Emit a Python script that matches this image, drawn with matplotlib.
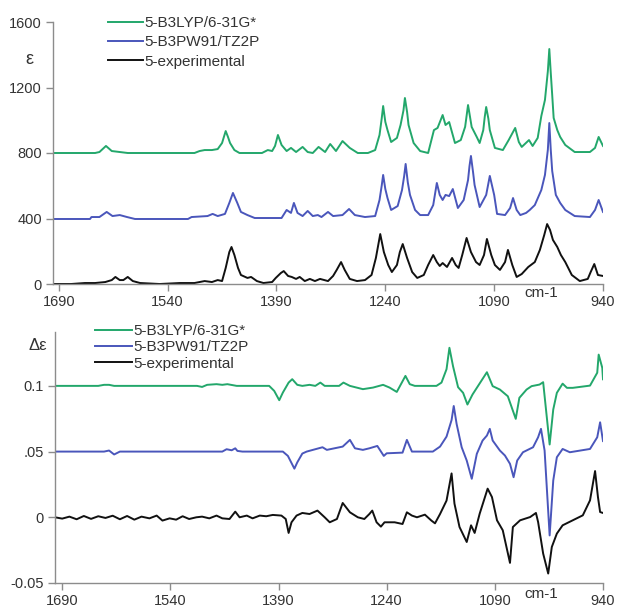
import matplotlib
matplotlib.use("Agg")
import matplotlib.pyplot as plt
import numpy as np

plt.rcParams['font.family'] = ['Liberation Sans', 'DejaVu Sans']

# --- absorption (epsilon), wavenumber in cm-1 ---
wn_abs_b3lyp = [1698, 1640, 1634, 1625, 1617, 1606, 1595, 1503, 1496, 1489, 1479, 1471, 1465, 1462, 1460,
                1457, 1454, 1448, 1441, 1410, 1402, 1396, 1392, 1388, 1383, 1376, 1370, 1363, 1354, 1347,
                1340, 1332, 1323, 1316, 1308, 1299, 1289, 1278, 1264, 1254, 1248, 1245, 1243, 1240, 1237, 1232,
                1224, 1219, 1215, 1213, 1210, 1208, 1201, 1192, 1181, 1173, 1168, 1161, 1157, 1152, 1144, 1136,
                1130, 1126, 1124, 1121, 1114, 1110, 1105, 1103, 1101, 1098, 1096, 1089, 1078, 1070, 1061, 1056, 1052, 1042,
                1037, 1030, 1025, 1020, 1016, 1014, 1012, 1010, 1008, 1003, 999, 992, 979, 958, 951, 946, 940]
eps_b3lyp = [800, 800, 806, 843, 812, 806, 800, 800, 812, 818, 818, 824, 861, 905, 934,
             900, 861, 818, 800, 800, 818, 812, 843, 910, 849, 812, 831, 806, 837, 806,
             800, 837, 806, 855, 812, 873, 831, 800, 800, 818, 910, 1010, 1087, 990, 940, 867,
             892, 971, 1060, 1136, 1050, 971, 861, 812, 800, 940, 953, 1032, 971, 989, 861, 879,
             960, 1093, 1040, 959, 898, 861, 940, 1020, 1081, 1010, 940, 831, 818, 879, 953, 867, 837, 879,
             843, 892, 1026, 1124, 1300, 1435, 1290, 1154, 1014, 940, 898, 849, 806, 806, 831, 898, 843]

wn_abs_b3pw91 = [1698, 1647, 1645, 1634, 1624, 1616, 1606, 1596, 1585, 1512, 1507, 1485, 1478, 1471,
                 1461, 1455, 1450, 1444, 1439, 1430, 1420, 1383, 1376, 1370, 1366, 1361, 1354, 1347,
                 1340, 1333, 1328, 1319, 1312, 1299, 1290, 1282, 1268, 1254, 1248, 1245, 1243, 1240, 1237, 1232,
                 1223, 1217, 1214, 1212, 1209, 1206, 1199, 1192, 1181, 1174, 1169, 1165, 1161, 1157, 1152, 1147,
                 1140, 1132, 1126, 1124, 1122, 1119, 1117, 1110, 1101, 1096, 1090, 1086, 1075, 1068, 1064, 1059,
                 1054, 1046, 1041, 1034, 1025, 1020, 1016, 1014, 1012, 1010, 1005, 999, 992, 979, 958, 951, 946, 940]
eps_b3pw91 = [397, 397, 409, 409, 440, 415, 421, 409, 397, 397, 409, 415, 428, 415,
              428, 495, 556, 495, 440, 421, 403, 403, 452, 434, 495, 434, 415, 446,
              415, 421, 409, 440, 415, 421, 458, 421, 409, 415, 513, 600, 666, 580, 525, 452,
              476, 574, 660, 733, 620, 544, 452, 421, 421, 482, 617, 544, 513, 544, 537, 580,
              464, 513, 635, 720, 782, 680, 605, 470, 544, 660, 544, 428, 421, 464, 525, 452,
              421, 434, 452, 482, 574, 666, 820, 983, 820, 690, 544, 495, 452, 415, 409, 452, 513, 440]

wn_abs_exp = [1698, 1673, 1654, 1640, 1626, 1617, 1612, 1606, 1601, 1595, 1588, 1578, 1551, 1523,
              1503, 1489, 1479, 1471, 1465, 1460, 1455, 1452, 1448, 1443, 1439, 1430, 1425, 1417,
              1408, 1396, 1391, 1384, 1380, 1374, 1369, 1363, 1358, 1351, 1344, 1337, 1330, 1319,
              1312, 1307, 1301, 1296, 1289, 1279, 1268, 1259, 1253, 1247, 1242, 1236, 1231, 1224,
              1220, 1216, 1210, 1203, 1196, 1187, 1181, 1174, 1169, 1165, 1161, 1155, 1148, 1143,
              1139, 1134, 1128, 1122, 1115, 1110, 1104, 1100, 1094, 1089, 1082, 1075, 1071, 1065,
              1059, 1052, 1043, 1034, 1027, 1021, 1017, 1013, 1009, 1003, 998, 992, 983, 972,
              961, 957, 952, 947, 940]
eps_exp = [0, 0, 6, 6, 12, 24, 43, 24, 24, 43, 18, 6, 0, 6,
           6, 18, 12, 24, 18, 98, 195, 226, 177, 98, 55, 37, 43, 18,
           6, 12, 37, 67, 79, 49, 43, 31, 43, 18, 31, 18, 31, 18,
           49, 86, 134, 86, 31, 18, 24, 55, 159, 305, 195, 116, 73, 116,
           195, 244, 159, 73, 37, 55, 116, 177, 134, 110, 128, 104, 159, 116,
           98, 177, 281, 195, 134, 116, 177, 275, 177, 116, 86, 134, 208, 116,
           43, 61, 104, 134, 208, 299, 366, 330, 269, 226, 177, 134, 55, 18,
           31, 73, 122, 55, 49]

# --- circular dichroism (delta epsilon) ---
wn_cd_b3lyp = [1700, 1640, 1632, 1625, 1618, 1503, 1496, 1489, 1476, 1468, 1461, 1448, 1403, 1396,
               1389, 1384, 1376, 1371, 1364, 1357, 1347, 1339, 1332, 1326, 1306, 1300, 1291, 1273,
               1259, 1245, 1236, 1226, 1219, 1214, 1208, 1201, 1171, 1164, 1157, 1153, 1148, 1141,
               1134, 1128, 1121, 1101, 1093, 1083, 1072, 1061, 1056, 1046, 1039, 1028, 1023, 1014,
               1009, 1004, 996, 990, 982, 958, 948, 946, 941, 940]
de_b3lyp = [0.1, 0.1, 0.1008, 0.1008, 0.1, 0.1, 0.0992, 0.1008, 0.1013, 0.1008, 0.1013, 0.1, 0.1, 0.0962,
            0.0891, 0.0949, 0.1025, 0.1051, 0.1008, 0.1, 0.1008, 0.1, 0.1025, 0.1, 0.1, 0.1025, 0.1, 0.0975,
            0.0987, 0.1008, 0.0987, 0.0954, 0.1025, 0.1076, 0.1013, 0.1, 0.1, 0.1025, 0.1127, 0.129, 0.115, 0.099,
            0.0947, 0.0858, 0.0934, 0.1104, 0.0998, 0.0972, 0.0921, 0.0749, 0.0909, 0.0972, 0.0998, 0.101, 0.1028, 0.0554,
            0.082, 0.0947, 0.1017, 0.0985, 0.0985, 0.1002, 0.110, 0.1238, 0.1137, 0.105]

wn_cd_b3pw91 = [1700, 1632, 1625, 1618, 1610, 1468, 1462, 1455, 1450, 1447, 1440, 1384, 1377, 1368,
                1364, 1357, 1351, 1329, 1323, 1301, 1291, 1284, 1273, 1264, 1253, 1244, 1240, 1218,
                1212, 1205, 1176, 1166, 1157, 1150, 1147, 1143, 1136, 1129, 1122, 1115, 1107, 1101,
                1097, 1093, 1083, 1076, 1069, 1064, 1059, 1051, 1037, 1030, 1026, 1021, 1014, 1009,
                1004, 996, 986, 958, 948, 944, 940]
de_b3pw91 = [0.05, 0.05, 0.0508, 0.0478, 0.05, 0.05, 0.0518, 0.051, 0.0525, 0.0505, 0.05, 0.05, 0.0467, 0.037,
             0.0418, 0.0485, 0.05, 0.0533, 0.0513, 0.0538, 0.0589, 0.0525, 0.0513, 0.0525, 0.0543, 0.0467, 0.0487, 0.0492,
             0.0589, 0.05, 0.05, 0.0538, 0.0614, 0.074, 0.0847, 0.071, 0.0533, 0.0432, 0.0293, 0.0483, 0.0584, 0.0622,
             0.0673, 0.0584, 0.0508, 0.047, 0.0407, 0.0305, 0.0432, 0.0495, 0.0533, 0.0609, 0.0673, 0.0508, -0.0138, 0.028,
             0.0457, 0.052, 0.0495, 0.052, 0.0609, 0.0723, 0.058]

wn_cd_exp = [1700, 1690, 1680, 1670, 1660, 1650, 1640, 1630, 1620, 1610, 1600, 1590, 1580, 1569,
             1559, 1551, 1541, 1532, 1523, 1514, 1504, 1496, 1486, 1476, 1468, 1458, 1450, 1444,
             1434, 1426, 1416, 1407, 1398, 1386, 1380, 1376, 1372, 1365, 1357, 1347, 1336, 1326,
             1319, 1309, 1301, 1291, 1280, 1271, 1264, 1260, 1254, 1248, 1243, 1229, 1218, 1212,
             1205, 1198, 1187, 1178, 1173, 1166, 1157, 1150, 1146, 1139, 1129, 1123, 1118, 1111,
             1100, 1094, 1087, 1079, 1069, 1065, 1055, 1041, 1033, 1030, 1023, 1016, 1011, 1004,
             996, 982, 968, 958, 951, 947, 944, 940]
de_exp = [0, -0.001, 0.0005, -0.0015, 0.001, -0.0012, 0.0008, -0.0005, 0.0012, -0.0015, 0.001, -0.0018, 0.0005, -0.0008,
          0.0013, -0.0025, -0.0008, -0.0018, 0.0008, -0.0013, 0, 0.0005, -0.0008, 0.0013, -0.0008, -0.0013, 0.0043, 0,
          0.0013, -0.0008, 0.0013, 0.0008, 0.0018, 0.0013, -0.0013, -0.0119, -0.0038, 0.0013, 0.0033, 0.0025, 0.0051, 0,
          -0.0038, -0.0013, 0.0109, 0.0038, 0, -0.0013, 0.0025, 0.0051, -0.0038, -0.0071, -0.0038, -0.0038, -0.0051, 0.0038,
          0.0013, 0, 0.002, -0.0025, -0.0046, 0.0025, 0.0127, 0.0334, 0.0104, -0.0074, -0.0188, -0.0061, -0.0119, 0.0028,
          0.0218, 0.0154, -0.0023, -0.0099, -0.0347, -0.0074, -0.0023, 0.0002, 0.0033, -0.0036, -0.0276, -0.0428, -0.0226, -0.0124,
          -0.0061, -0.0023, 0.0015, 0.0129, 0.0352, 0.0154, 0.004, 0.0033]

labels = ["5-B3LYP/6-31G*", "5-B3PW91/TZ2P", "5-experimental"]
c_green = "#23a76b"
c_blue = "#4a56bb"
c_black = "#111111"
axis_col = "#8c8c8c"
text_col = "#333333"

fig = plt.figure(figsize=(6.17, 6.08), dpi=100)
ax1 = fig.add_axes([53/617, 1 - 284/608, 550/617, 262/608])
ax2 = fig.add_axes([55/617, 1 - 583/608, 548/617, 251/608])

lw = 1.4
kw = dict(lw=lw, solid_joinstyle="round")
ax1.plot(wn_abs_b3lyp, eps_b3lyp, color=c_green, label=labels[0], **kw)
ax1.plot(wn_abs_b3pw91, eps_b3pw91, color=c_blue, label=labels[1], **kw)
ax1.plot(wn_abs_exp, eps_exp, color=c_black, label=labels[2], **kw)

ax2.plot(wn_cd_b3lyp, de_b3lyp, color=c_green, label=labels[0], **kw)
ax2.plot(wn_cd_b3pw91, de_b3pw91, color=c_blue, label=labels[1], **kw)
ax2.plot(wn_cd_exp, de_exp, color=c_black, label=labels[2], **kw)

xticks = [1690, 1540, 1390, 1240, 1090, 940]
ax1.set_xlim(1698, 940)
ax1.set_ylim(0, 1600)
ax1.set_yticks([0, 400, 800, 1200, 1600])
ax2.set_xlim(1700, 940)
ax2.set_ylim(-0.05, 0.141)
ax2.set_yticks([-0.05, 0, 0.05, 0.1])
ax2.set_yticklabels(["-0.05", "0", ".05", "0.1"])

for ax in (ax1, ax2):
    ax.set_xticks(xticks)
    ax.set_xticklabels([str(t) for t in xticks])
    for s in ("top", "right"):
        ax.spines[s].set_visible(False)
    for s in ("left", "bottom"):
        ax.spines[s].set_color(axis_col)
        ax.spines[s].set_linewidth(1.0)
    ax.tick_params(direction="out", length=5, width=1.0, color=axis_col,
                   labelsize=10.5, labelcolor=text_col, pad=3)
    ax.patch.set_alpha(0)

ax1.legend(loc="upper left", bbox_to_anchor=(108/617, 1 - 16/608), bbox_transform=fig.transFigure,
           frameon=False, fontsize=11, handlelength=2.3, handletextpad=0.1,
           labelspacing=0.35, borderpad=0, borderaxespad=0, labelcolor=text_col)
ax2.legend(loc="upper left", bbox_to_anchor=(95/617, 1 - 324/608), bbox_transform=fig.transFigure,
           frameon=False, fontsize=11, handlelength=2.4, handletextpad=0.1,
           labelspacing=0.15, borderpad=0, borderaxespad=0, labelcolor=text_col)

fig.text(29/617, 1 - 59/608, "ε", fontsize=13, color=text_col, ha="center", va="center")
fig.text(38/617, 1 - 346/608, "Δε", fontsize=12, color=text_col, ha="center", va="center")
fig.text(541/617, 1 - 293/608, "cm-1", fontsize=11, color=text_col, ha="center", va="center")
fig.text(541/617, 1 - 594/608, "cm-1", fontsize=11, color=text_col, ha="center", va="center")

fig.savefig("out.png", dpi=100)
